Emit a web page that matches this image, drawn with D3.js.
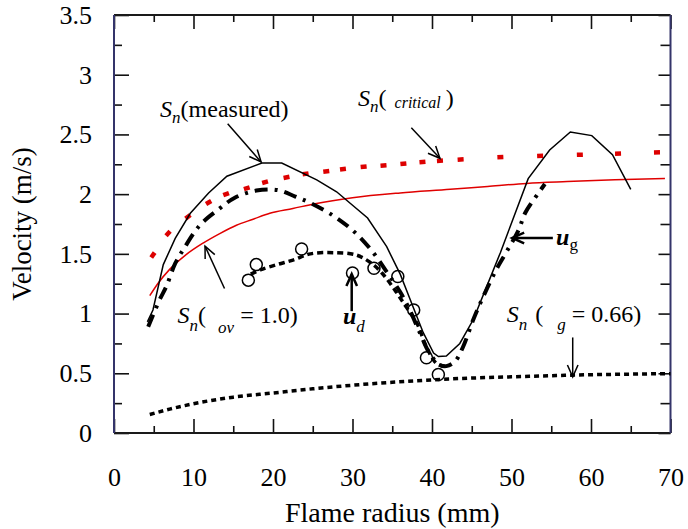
<!DOCTYPE html>
<html><head><meta charset="utf-8">
<script src="https://cdn.jsdelivr.net/npm/d3@7"></script>
<style>body{margin:0;background:#fff}</style>
</head><body><svg id="c" width="688" height="529"></svg>
<script>
// ---------------- data ----------------
const xTicks = [0, 10, 20, 30, 40, 50, 60, 70];
const xTickLabels = ["0", "10", "20", "30", "40", "50", "60", "70"];
const xMinorTicks = [5, 15, 25, 35, 45, 55, 65];
const yTicks = [0, 0.5, 1, 1.5, 2, 2.5, 3, 3.5];
const yTickLabels = ["0", "0.5", "1", "1.5", "2", "2.5", "3", "3.5"];
const yMinorTicks = [0.25, 0.75, 1.25, 1.75, 2.25, 2.75, 3.25];

// S_n (measured) - solid black polyline
const measuredX = [4.2, 4.9, 6.2, 7.7, 9.6, 11.9, 14.2, 18.6, 21.1, 25.5, 28.0, 31.9, 34.3, 36.0, 37.6, 38.9, 40.2, 40.8, 41.8, 43.5, 45.2, 46.9, 48.6, 52.1, 54.8, 57.4, 60.1, 62.7, 65.0];
const measuredY = [0.93, 1.03, 1.41, 1.63, 1.84, 2.01, 2.15, 2.26, 2.26, 2.12, 2.02, 1.80, 1.56, 1.33, 1.06, 0.84, 0.67, 0.64, 0.645, 0.75, 0.95, 1.23, 1.51, 2.13, 2.37, 2.52, 2.49, 2.33, 2.04];

// S_n (phi critical) - red dotted
const criticalX = [4.9, 6.8, 9.3, 11.9, 14.1, 16.7, 19.0, 21.7, 24.1, 26.7, 28.8, 31.4, 33.9, 36.4, 38.8, 41.0, 43.6, 48.6, 53.6, 58.6, 63.4, 68.3];
const criticalY = [1.49, 1.67, 1.81, 1.93, 2.00, 2.05, 2.10, 2.14, 2.17, 2.19, 2.21, 2.23, 2.24, 2.255, 2.27, 2.28, 2.29, 2.31, 2.32, 2.33, 2.34, 2.35];

// S_n (phi_ov = 1.0) - red solid
const ovX = [4.5, 5.5, 7.0, 9.0, 11.2, 13.3, 15.4, 17.5, 19.6, 22.5, 25.3, 30.0, 36.0, 42.3, 47.0, 51.9, 57.0, 63.0, 69.3];
const ovY = [1.15, 1.25, 1.37, 1.49, 1.59, 1.67, 1.74, 1.79, 1.84, 1.88, 1.92, 1.97, 2.01, 2.04, 2.065, 2.09, 2.105, 2.12, 2.13];

// u_g - black dash-dot
const ugX = [4.3, 5.7, 6.6, 7.7, 8.85, 10.8, 13.1, 15.2, 17.9, 20.5, 22.8, 24.9, 27.8, 30.3, 32.5, 34.3, 36.0, 37.2, 38.5, 39.7, 41.0, 41.8, 42.9, 43.9, 45.2, 46.5, 48.1, 49.4, 50.9, 51.7, 53.4, 54.2];
const ugY = [0.89, 1.11, 1.23, 1.42, 1.55, 1.74, 1.87, 1.97, 2.03, 2.035, 1.98, 1.92, 1.81, 1.68, 1.52, 1.35, 1.18, 1.03, 0.835, 0.667, 0.57, 0.56, 0.60, 0.72, 0.95, 1.15, 1.37, 1.52, 1.70, 1.84, 2.01, 2.085];

// u_d - black dashed
const udX = [17.2, 18.4, 20.5, 22.6, 24.7, 27.6, 30.5, 32.4, 33.7, 35.3, 36.7, 38.1, 39.3, 40.6, 41.6];
const udY = [1.33, 1.365, 1.41, 1.45, 1.50, 1.51, 1.49, 1.42, 1.34, 1.20, 1.06, 0.92, 0.72, 0.58, 0.56];

// S_n (phi_g = 0.66) - black dotted
const g066X = [4.5, 7, 10, 15, 20, 25, 30, 35, 40, 45, 50, 55, 60, 65, 70];
const g066Y = [0.155, 0.20, 0.245, 0.30, 0.335, 0.37, 0.40, 0.425, 0.445, 0.46, 0.47, 0.48, 0.488, 0.493, 0.497];

// measured u_d points - open circles
const circleX = [16.9, 17.9, 23.6, 30.0, 32.7, 35.7, 37.7, 39.3, 40.8];
const circleY = [1.28, 1.41, 1.54, 1.34, 1.38, 1.31, 1.03, 0.63, 0.49];

// ---------------- chart ----------------
const FONT = '"Liberation Serif"';
const svg = d3.select("#c");
svg.append("rect").attr("width", 688).attr("height", 529).attr("fill", "#fff");
const x = d3.scaleLinear().domain([0, 70]).range([114, 670.5]);
const y = d3.scaleLinear().domain([0, 3.5]).range([433, 15]);
const X0 = x(0), X1 = x(70), Y0 = y(0), Y1 = y(3.5);
const FS = 24, TFS = 26;

function styleAxis(g) {
  g.select(".domain").remove();
  g.selectAll(".tick line").attr("stroke", "#111").attr("stroke-width", 1.6);
  g.selectAll(".tick text").attr("fill", "#000")
    .style("font-family", FONT).style("font-size", TFS + "px");
}
// bottom
svg.append("g").attr("transform", `translate(0,${Y0})`)
  .call(d3.axisBottom(x).tickValues(xTicks).tickSize(-14).tickPadding(35).tickFormat((d, i) => xTickLabels[i]))
  .call(styleAxis);
svg.append("g").attr("transform", `translate(0,${Y0})`)
  .call(d3.axisBottom(x).tickValues(xMinorTicks).tickSize(-7).tickFormat(""))
  .call(styleAxis);
// top
svg.append("g").attr("transform", `translate(0,${Y1})`)
  .call(d3.axisTop(x).tickValues(xTicks).tickSize(-14).tickFormat(""))
  .call(styleAxis);
svg.append("g").attr("transform", `translate(0,${Y1})`)
  .call(d3.axisTop(x).tickValues(xMinorTicks).tickSize(-7).tickFormat(""))
  .call(styleAxis);
// left
svg.append("g").attr("transform", `translate(${X0},0)`)
  .call(d3.axisLeft(y).tickValues(yTicks).tickSize(-15).tickPadding(22).tickFormat((d, i) => yTickLabels[i]))
  .call(styleAxis);
svg.append("g").attr("transform", `translate(${X0},0)`)
  .call(d3.axisLeft(y).tickValues(yMinorTicks).tickSize(-8).tickFormat(""))
  .call(styleAxis);
// right
svg.append("g").attr("transform", `translate(${X1},0)`)
  .call(d3.axisRight(y).tickValues(yTicks).tickSize(-12).tickFormat(""))
  .call(styleAxis);
svg.append("g").attr("transform", `translate(${X1},0)`)
  .call(d3.axisRight(y).tickValues(yMinorTicks).tickSize(-10).tickFormat(""))
  .call(styleAxis);

// frame
svg.append("line").attr("x1", X0).attr("x2", X1).attr("y1", Y0).attr("y2", Y0).attr("stroke", "#1a1a1a").attr("stroke-width", 2);
svg.append("line").attr("x1", X0).attr("x2", X1).attr("y1", Y1).attr("y2", Y1).attr("stroke", "#1a1a1a").attr("stroke-width", 2);
svg.append("line").attr("x1", X0).attr("x2", X0).attr("y1", Y1).attr("y2", Y0).attr("stroke", "#34346a").attr("stroke-width", 2);
svg.append("line").attr("x1", X1).attr("x2", X1).attr("y1", Y1).attr("y2", Y0).attr("stroke", "#34346a").attr("stroke-width", 2);

// axis titles
svg.append("text").attr("x", (X0 + X1) / 2).attr("y", 522).attr("text-anchor", "middle")
  .style("font-family", FONT).style("font-size", "28px").text("Flame radius (mm)");
svg.append("text").attr("transform", `translate(31,${(Y0 + Y1) / 2}) rotate(-90)`).attr("text-anchor", "middle")
  .style("font-family", FONT).style("font-size", "27px").text("Velocity (m/s)");

const zip = (a, b) => a.map((v, i) => [v, b[i]]);
const lineLin = d3.line().x(d => x(d[0])).y(d => y(d[1]));
const lineMono = d3.line().x(d => x(d[0])).y(d => y(d[1])).curve(d3.curveMonotoneX);
const lineCat = d3.line().x(d => x(d[0])).y(d => y(d[1])).curve(d3.curveCatmullRom.alpha(0.5));

// S_n(phi_g=0.66)
svg.append("path").datum(zip(g066X, g066Y)).attr("d", lineMono)
  .attr("fill", "none").attr("stroke", "#000").attr("stroke-width", 3.5).attr("stroke-dasharray", "5,4");

// S_n(ov=1.0) red solid
svg.append("path").datum(zip(ovX, ovY)).attr("d", lineMono)
  .attr("fill", "none").attr("stroke", "#e00000").attr("stroke-width", 1.5);

// critical: red dot markers oriented along curve
const crit = zip(criticalX, criticalY);
svg.append("g").selectAll("line").data(crit).join("line")
  .each(function (d, i) {
    const a = crit[Math.max(0, i - 1)], b = crit[Math.min(crit.length - 1, i + 1)];
    const dx = x(b[0]) - x(a[0]), dy = y(b[1]) - y(a[1]);
    const L = Math.hypot(dx, dy) || 1, ux = dx / L * 3, uy = dy / L * 3;
    d3.select(this).attr("x1", x(d[0]) - ux).attr("y1", y(d[1]) - uy)
      .attr("x2", x(d[0]) + ux).attr("y2", y(d[1]) + uy);
  })
  .attr("stroke", "#dd0000").attr("stroke-width", 4.5);

// u_g dash-dot
svg.append("path").datum(zip(ugX, ugY)).attr("d", lineCat)
  .attr("fill", "none").attr("stroke", "#000").attr("stroke-width", 4)
  .attr("stroke-dasharray", "13,7,3,7");

// u_d dashed
svg.append("path").datum(zip(udX, udY)).attr("d", lineCat)
  .attr("fill", "none").attr("stroke", "#000").attr("stroke-width", 3.5)
  .attr("stroke-dasharray", "6,4");

// measured solid
svg.append("path").datum(zip(measuredX, measuredY)).attr("d", lineLin)
  .attr("fill", "none").attr("stroke", "#000").attr("stroke-width", 1.5);

// circles
svg.append("g").selectAll("circle").data(zip(circleX, circleY)).join("circle")
  .attr("cx", d => x(d[0])).attr("cy", d => y(d[1])).attr("r", 6)
  .attr("fill", "none").attr("stroke", "#000").attr("stroke-width", 1.5);

// ---------------- annotations ----------------
function arrow(x1, y1, x2, y2, w) {
  const X1p = x(x1), Y1p = y(y1), X2p = x(x2), Y2p = y(y2);
  const g = svg.append("g").attr("stroke", "#000").attr("stroke-width", w || 1.5).attr("fill", "none");
  g.append("line").attr("x1", X1p).attr("y1", Y1p).attr("x2", X2p).attr("y2", Y2p);
  const ang = Math.atan2(Y2p - Y1p, X2p - X1p), hl = 13, ha = 0.42;
  g.append("path").attr("d",
    `M${X2p - hl * Math.cos(ang - ha)},${Y2p - hl * Math.sin(ang - ha)}L${X2p},${Y2p}L${X2p - hl * Math.cos(ang + ha)},${Y2p - hl * Math.sin(ang + ha)}`);
}
arrow(14.3, 2.59, 18.5, 2.27);
arrow(37.4, 2.555, 41.0, 2.30);
arrow(13.9, 1.21, 11.45, 1.565);
arrow(29.9, 1.02, 29.9, 1.33, 2.5);
arrow(55.2, 1.633, 50.1, 1.633, 2.5);
arrow(57.7, 0.80, 57.7, 0.47);

function label(xv, yv, parts) {
  const t = svg.append("text").attr("x", x(xv)).attr("y", y(yv))
    .style("font-family", FONT).style("font-size", FS + "px");
  parts.forEach(p => {
    const s = t.append("tspan").text(p.t).style("font-family", FONT);
    if (p.fs) s.style("font-size", p.fs + "px");
    if (p.i) s.style("font-style", "italic");
    if (p.b) s.style("font-weight", "bold");
    if (p.dy) s.attr("dy", p.dy);
    if (p.dx) s.attr("dx", p.dx);
  });
}
label(5.8, 2.65, [{t: "S", i: 1}, {t: "n", i: 1, fs: 17, dy: 6}, {t: "(measured)", dy: -6}]);
label(30.7, 2.74, [{t: "S", i: 1}, {t: "n", i: 1, fs: 17, dy: 6}, {t: "(", dy: -6}, {t: "critical", i: 1, fs: 16, dx: 8, dy: 2}, {t: ")", dx: 5, dy: -2}]);
label(8.0, 0.92, [{t: "S", i: 1}, {t: "n", i: 1, fs: 17, dy: 8}, {t: "(", dy: -8}, {t: "ov", i: 1, fs: 17, dx: 12, dy: 10}, {t: "= 1.0)", dx: 6, dy: -10}]);
label(28.8, 0.91, [{t: "u", i: 1, b: 1}, {t: "d", i: 1, fs: 17, dy: 8}]);
label(55.6, 1.57, [{t: "u", i: 1, b: 1}, {t: "g", fs: 17, dy: 5}]);
label(49.4, 0.93, [{t: "S", i: 1}, {t: "n", i: 1, fs: 17, dy: 8}, {t: "(", dx: 8, dy: -8}, {t: "g", i: 1, fs: 17, dx: 14, dy: 8}, {t: "= 0.66)", dx: 6, dy: -8}]);
</script>
</body></html>
